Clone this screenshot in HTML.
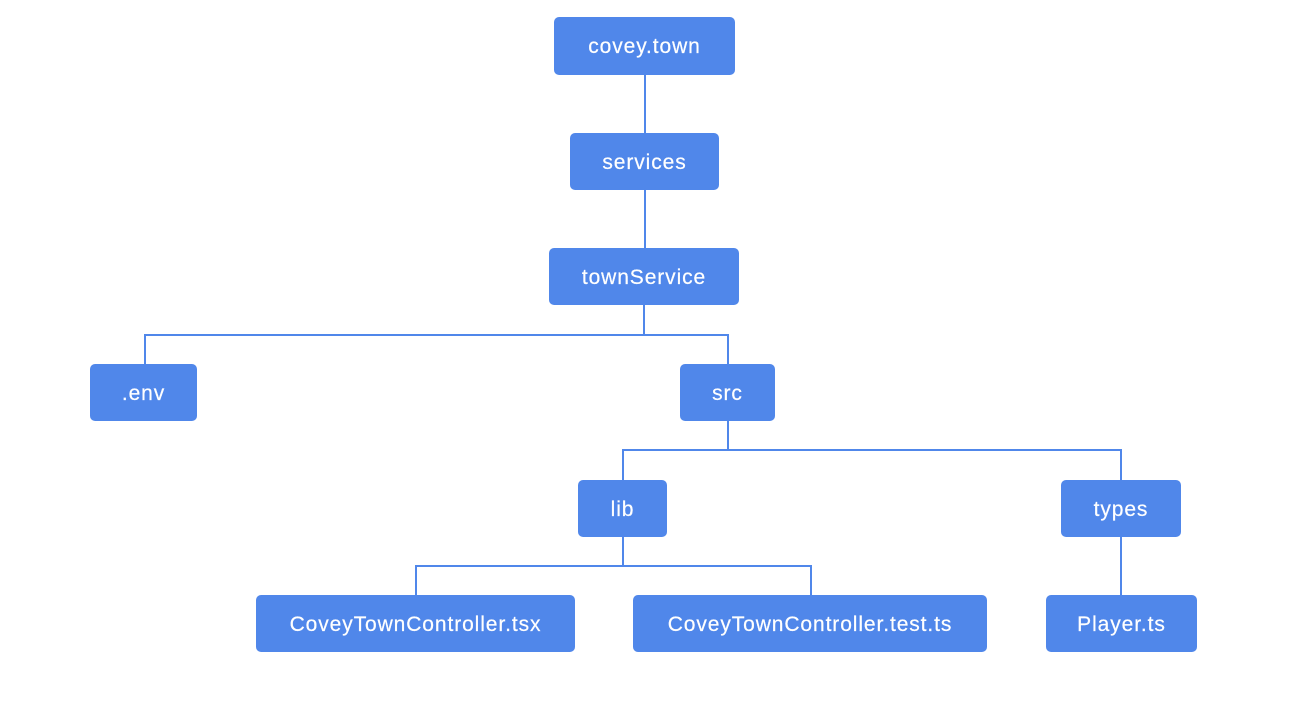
<!DOCTYPE html>
<html><head><style>
body{margin:0;width:1314px;height:708px;background:#fff;position:relative;overflow:hidden;font-family:"Liberation Sans",sans-serif}
.b{position:absolute;background:#5087EA;border-radius:5px;color:#fff;font-size:21px;letter-spacing:0.9px;display:flex;align-items:center;justify-content:center;box-sizing:border-box;padding-top:2px;-webkit-text-stroke:0.2px #fff}
svg{position:absolute;left:0;top:0}
</style></head><body>
<svg width="1314" height="708"><g stroke="#5087EA" stroke-width="2" fill="none">
<path d="M645 75V133M645 190V248M644 305V335M145 364V335H728V364M728 421V450M623 480V450H1121V480M623 537V566M416 595V566H811V595M1121 537V595"/>
</g></svg>
<div class="b" style="left:554px;top:17px;width:181px;height:58px">covey.town</div>
<div class="b" style="left:570px;top:133px;width:149px;height:57px">services</div>
<div class="b" style="left:549px;top:248px;width:190px;height:57px">townService</div>
<div class="b" style="left:90px;top:364px;width:107px;height:57px">.env</div>
<div class="b" style="left:680px;top:364px;width:95px;height:57px">src</div>
<div class="b" style="left:578px;top:480px;width:89px;height:57px">lib</div>
<div class="b" style="left:1061px;top:480px;width:120px;height:57px">types</div>
<div class="b" style="left:256px;top:595px;width:319px;height:57px">CoveyTownController.tsx</div>
<div class="b" style="left:633px;top:595px;width:354px;height:57px">CoveyTownController.test.ts</div>
<div class="b" style="left:1046px;top:595px;width:151px;height:57px">Player.ts</div>
</body></html>
